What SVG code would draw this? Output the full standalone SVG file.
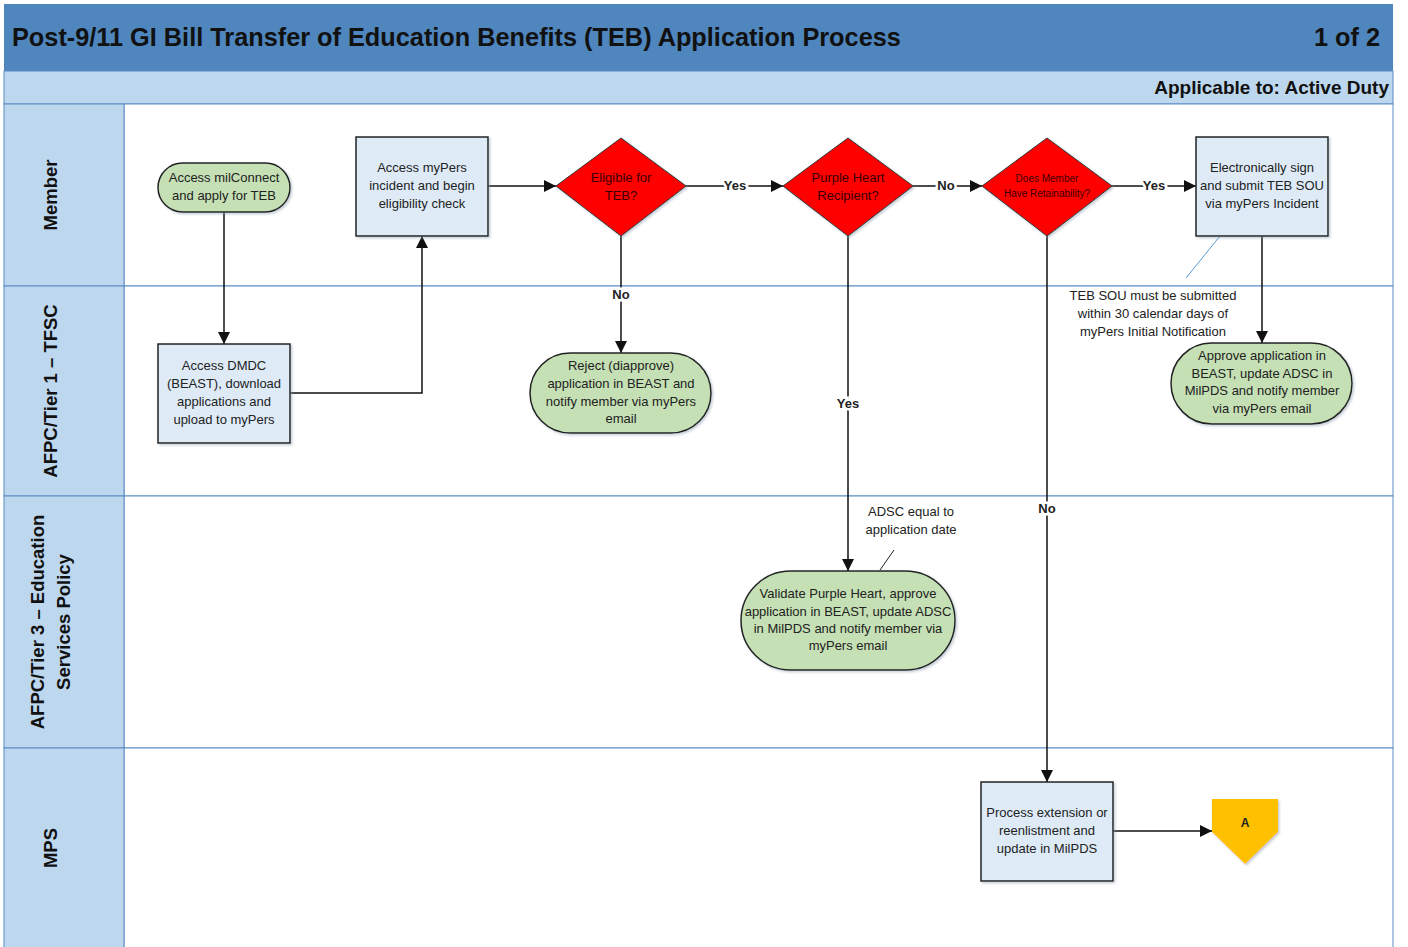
<svg xmlns="http://www.w3.org/2000/svg" width="1408" height="947" viewBox="0 0 1408 947">
  <style>
    .hdr { fill: #4F86BD; }
    .sub { fill: #BDD7EE; stroke: #5B8BC4; stroke-width: 1; }
    .lane { fill: #FFFFFF; stroke: #5B8BC4; stroke-width: 1; }
    .lanehead { fill: #BDD7EE; stroke: #5B8BC4; stroke-width: 1; }
    .title { font-family: "Liberation Sans", Arial, sans-serif; font-weight: bold; font-size: 25.3px; fill: #111; }
    .applic { font-family: "Liberation Sans", Arial, sans-serif; font-weight: bold; font-size: 19px; fill: #111; }
    .lanelbl { font-family: "Liberation Sans", Arial, sans-serif; font-weight: bold; font-size: 18.5px; fill: #111; text-anchor: middle; }
    .proc { fill: #DEEBF7; stroke: #222; stroke-width: 1.5; filter: url(#shadow); }
    .term { fill: #C5E0B4; stroke: #222; stroke-width: 1.5; filter: url(#shadow); }
    .dec { fill: #FF0000; stroke: #333; stroke-width: 1; filter: url(#shadow); }
    .off { fill: #FFC000; filter: url(#shadow); }
    .t { font-family: "Liberation Sans", Arial, sans-serif; font-size: 13px; fill: #222; text-anchor: middle; }
    .td { font-family: "Liberation Sans", Arial, sans-serif; font-size: 13px; fill: #3A0000; text-anchor: middle; }
    .tds { font-family: "Liberation Sans", Arial, sans-serif; font-size: 10px; fill: #3A0000; text-anchor: middle; }
    .lbl { font-family: "Liberation Sans", Arial, sans-serif; font-size: 13px; font-weight: bold; fill: #222; text-anchor: middle; paint-order: stroke; stroke: #fff; stroke-width: 5px; }
    .conn { fill: none; stroke: #111; stroke-width: 1.5; marker-end: url(#arr); }
    .note { font-family: "Liberation Sans", Arial, sans-serif; font-size: 13px; fill: #222; text-anchor: middle; }
  </style>
  <defs>
    <marker id="arr" viewBox="0 0 10 10" refX="10" refY="5" markerWidth="12" markerHeight="12" markerUnits="userSpaceOnUse" orient="auto">
      <path d="M0,0 L10,5 L0,10 z" fill="#111"/>
    </marker>
    <filter id="shadow" x="-10%" y="-10%" width="125%" height="125%">
      <feDropShadow dx="1.5" dy="1.5" stdDeviation="1.2" flood-color="#8899aa" flood-opacity="0.5"/>
    </filter>
  </defs>

  <!-- page background -->
  <rect x="0" y="0" width="1408" height="947" fill="#FFFFFF"/>

  <!-- header bars -->
  <g id="header">
    <rect class="hdr" x="4" y="4" width="1389" height="67"/>
    <text class="title" x="12" y="46">Post-9/11 GI Bill Transfer of Education Benefits (TEB) Application Process</text>
    <text class="title" x="1380" y="46" text-anchor="end">1 of 2</text>
    <rect class="sub" x="4" y="71" width="1389" height="33"/>
    <text class="applic" x="1389" y="94" text-anchor="end">Applicable to: Active Duty</text>
  </g>

  <!-- swimlanes -->
  <g id="lanes">
    <rect class="lane" x="124" y="104" width="1269" height="182"/>
    <rect class="lane" x="124" y="286" width="1269" height="210"/>
    <rect class="lane" x="124" y="496" width="1269" height="252"/>
    <rect class="lane" x="124" y="748" width="1269" height="205"/>
    <rect class="lanehead" x="4" y="104" width="120" height="182"/>
    <rect class="lanehead" x="4" y="286" width="120" height="210"/>
    <rect class="lanehead" x="4" y="496" width="120" height="252"/>
    <rect class="lanehead" x="4" y="748" width="120" height="205"/>
    <text class="lanelbl" transform="translate(57,195) rotate(-90)">Member</text>
    <text class="lanelbl" transform="translate(57,391) rotate(-90)">AFPC/Tier 1 – TFSC</text>
    <text class="lanelbl" transform="translate(44,622) rotate(-90)">AFPC/Tier 3 – Education</text>
    <text class="lanelbl" transform="translate(70,622) rotate(-90)">Services Policy</text>
    <text class="lanelbl" transform="translate(57,848) rotate(-90)">MPS</text>
  </g>

  <!-- connectors -->
  <g id="connectors">
    <path class="conn" d="M224,212 V344"/>
    <path class="conn" d="M290,393 H422 V236"/>
    <path class="conn" d="M488,186 H556"/>
    <path class="conn" d="M686,186 H783"/>
    <path class="conn" d="M913,186 H982"/>
    <path class="conn" d="M1112,186 H1196"/>
    <path class="conn" d="M621,236 V353"/>
    <path class="conn" d="M848,236 V571"/>
    <path class="conn" d="M1047,236 V782"/>
    <path class="conn" d="M1262,236 V343"/>
    <path class="conn" d="M1113,831 H1212"/>
    <text class="lbl" x="735" y="190">Yes</text>
    <text class="lbl" x="946" y="190">No</text>
    <text class="lbl" x="1154" y="190">Yes</text>
    <text class="lbl" x="621" y="299">No</text>
    <text class="lbl" x="848" y="408">Yes</text>
    <text class="lbl" x="1047" y="513">No</text>
    <!-- annotation leaders -->
    <path d="M1220,236 L1186,278" stroke="#5B9BD5" stroke-width="1" fill="none"/>
    <path d="M880,570 L894,550" stroke="#222" stroke-width="1" fill="none"/>
  </g>

  <!-- Member lane -->
  <g id="n-milconnect">
    <rect class="term" x="158" y="163" width="132" height="49" rx="24.5"/>
    <text class="t" x="224" y="182">Access milConnect</text>
    <text class="t" x="224" y="200">and apply for TEB</text>
  </g>
  <g id="n-mypers">
    <rect class="proc" x="356" y="137" width="132" height="99"/>
    <text class="t" x="422" y="172">Access myPers</text>
    <text class="t" x="422" y="190">incident and begin</text>
    <text class="t" x="422" y="208">eligibility check</text>
  </g>
  <g id="d-eligible">
    <polygon class="dec" points="621,138 686,186 621,236 556,186"/>
    <text class="td" x="621" y="182">Eligible for</text>
    <text class="td" x="621" y="200">TEB?</text>
  </g>
  <g id="d-purpleheart">
    <polygon class="dec" points="848,138 913,186 848,236 783,186"/>
    <text class="td" x="848" y="182">Purple Heart</text>
    <text class="td" x="848" y="200">Recipient?</text>
  </g>
  <g id="d-retain">
    <polygon class="dec" points="1047,138 1112,186 1047,236 982,186"/>
    <text class="tds" x="1047" y="182">Does Member</text>
    <text class="tds" x="1047" y="197">Have Retainability?</text>
  </g>
  <g id="n-sign">
    <rect class="proc" x="1196" y="137" width="132" height="99"/>
    <text class="t" x="1262" y="172">Electronically sign</text>
    <text class="t" x="1262" y="190">and submit TEB SOU</text>
    <text class="t" x="1262" y="208">via myPers Incident</text>
  </g>

  <!-- Tier 1 lane -->
  <g id="n-dmdc">
    <rect class="proc" x="158" y="344" width="132" height="99"/>
    <text class="t" x="224" y="370">Access DMDC</text>
    <text class="t" x="224" y="388">(BEAST), download</text>
    <text class="t" x="224" y="406">applications and</text>
    <text class="t" x="224" y="424">upload to myPers</text>
  </g>
  <g id="n-reject">
    <rect class="term" x="530" y="353" width="181" height="80" rx="40"/>
    <text class="t" x="621" y="370">Reject (diapprove)</text>
    <text class="t" x="621" y="388">application in BEAST and</text>
    <text class="t" x="621" y="406">notify member via myPers</text>
    <text class="t" x="621" y="423">email</text>
  </g>
  <g id="n-note-sou">
    <text class="note" x="1153" y="300">TEB SOU must be submitted</text>
    <text class="note" x="1153" y="318">within 30 calendar days of</text>
    <text class="note" x="1153" y="336">myPers Initial Notification</text>
  </g>
  <g id="n-approve">
    <rect class="term" x="1171" y="343" width="181" height="81" rx="40.5"/>
    <text class="t" x="1262" y="360">Approve application in</text>
    <text class="t" x="1262" y="378">BEAST, update ADSC in</text>
    <text class="t" x="1262" y="395">MilPDS and notify member</text>
    <text class="t" x="1262" y="413">via myPers email</text>
  </g>

  <!-- Tier 3 lane -->
  <g id="n-note-adsc">
    <text class="note" x="911" y="516">ADSC equal to</text>
    <text class="note" x="911" y="534">application date</text>
  </g>
  <g id="n-validate">
    <rect class="term" x="741" y="571" width="214" height="99" rx="49.5"/>
    <text class="t" x="848" y="598">Validate Purple Heart, approve</text>
    <text class="t" x="848" y="616">application in BEAST, update ADSC</text>
    <text class="t" x="848" y="633">in MilPDS and notify member via</text>
    <text class="t" x="848" y="650">myPers email</text>
  </g>

  <!-- MPS lane -->
  <g id="n-process">
    <rect class="proc" x="981" y="782" width="132" height="99"/>
    <text class="t" x="1047" y="817">Process extension or</text>
    <text class="t" x="1047" y="835">reenlistment and</text>
    <text class="t" x="1047" y="853">update in MilPDS</text>
  </g>
  <g id="n-offpage-a">
    <polygon class="off" points="1212,799 1278,799 1278,832 1245,864 1212,832"/>
    <text x="1245" y="827" font-family="Liberation Sans, Arial, sans-serif" font-size="12" font-weight="bold" fill="#222" text-anchor="middle">A</text>
  </g>
</svg>
